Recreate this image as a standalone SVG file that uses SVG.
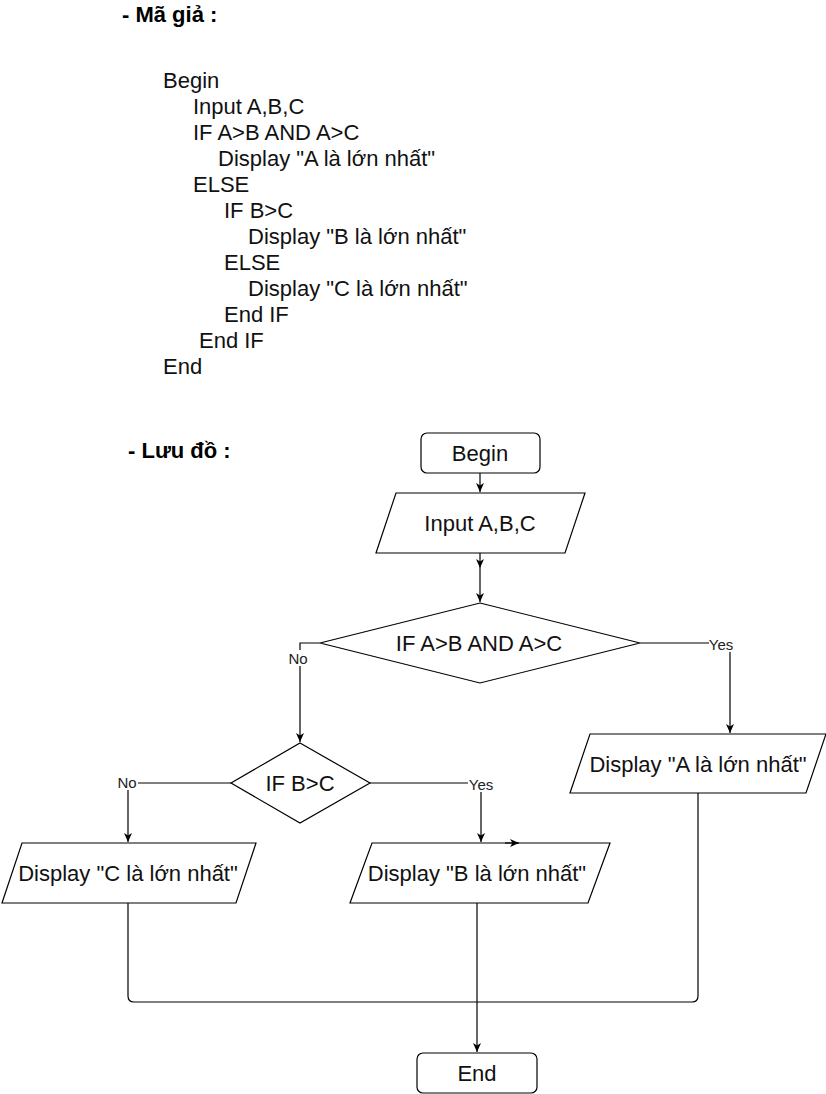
<svg xmlns="http://www.w3.org/2000/svg" width="826" height="1094" viewBox="0 0 826 1094">
<defs>
<style>
.t{font-family:"Liberation Sans",Arial,sans-serif;font-size:22px;fill:#111}
.h{font-family:"Liberation Sans",Arial,sans-serif;font-size:22px;font-weight:bold;fill:#000}
.c{text-anchor:middle;dominant-baseline:central}
.lb{font-family:"Liberation Sans",Arial,sans-serif;font-size:15px;fill:#222;text-anchor:middle;dominant-baseline:central}
.s{fill:#fff;stroke:#000;stroke-width:1.2}
.e{fill:none;stroke:#000;stroke-width:1.2}
</style>
<marker id="ar" markerUnits="userSpaceOnUse" markerWidth="10" markerHeight="10" viewBox="0 0 10 10" refX="9" refY="5" orient="auto">
<path d="M0,1 L9,5 L0,9 L2.5,5 z" fill="#000"/>
</marker>
</defs>
<rect width="826" height="1094" fill="#fff"/>

<g id="pseudocode">
<text class="h" x="122" y="22">- Mã giả :</text>
<text class="t" x="163" y="88">Begin</text>
<text class="t" x="193" y="114">Input A,B,C</text>
<text class="t" x="193" y="140">IF A&gt;B AND A&gt;C</text>
<text class="t" x="218" y="166">Display "A là lớn nhất"</text>
<text class="t" x="193" y="192">ELSE</text>
<text class="t" x="224" y="218">IF B&gt;C</text>
<text class="t" x="248" y="244">Display "B là lớn nhất"</text>
<text class="t" x="224" y="270">ELSE</text>
<text class="t" x="248" y="296">Display "C là lớn nhất"</text>
<text class="t" x="224" y="322">End IF</text>
<text class="t" x="199" y="348">End IF</text>
<text class="t" x="163" y="374">End</text>
<text class="h" x="128" y="458">- Lưu đồ :</text>
</g>

<g id="connectors">
<path class="e" d="M480,473 L480,492" marker-end="url(#ar)"/>
<path class="e" d="M480,553 L480,568" marker-end="url(#ar)"/>
<path class="e" d="M480,568 L480,602" marker-end="url(#ar)"/>
<path class="e" d="M320,643 L300,643 L300,742" marker-end="url(#ar)"/>
<path class="e" d="M640,643 L730,643 L730,733" marker-end="url(#ar)"/>
<path class="e" d="M231,783 L128,783 L128,842" marker-end="url(#ar)"/>
<path class="e" d="M370,783 L481,783 L481,842" marker-end="url(#ar)"/>
<path class="e" d="M128,903 L128,996 Q128,1002 134,1002 L692,1002 Q698,1002 698,996 L698,793"/>
<path class="e" d="M477,903 L477,1052" marker-end="url(#ar)"/>
<rect x="289" y="650" width="19" height="16" fill="#fff"/>
<text class="lb" x="298" y="658">No</text>
<rect x="709" y="636" width="25" height="16" fill="#fff"/>
<text class="lb" x="721" y="644">Yes</text>
<rect x="117" y="774" width="21" height="16" fill="#fff"/>
<text class="lb" x="127" y="782">No</text>
<rect x="468" y="776" width="26" height="16" fill="#fff"/>
<text class="lb" x="481" y="784">Yes</text>
</g>

<g id="begin">
<rect class="s" x="421" y="433" width="119" height="40" rx="6"/>
<text class="t c" x="480" y="453">Begin</text>
</g>
<g id="input">
<polygon class="s" points="396,493 585,493 565,553 376,553"/>
<text class="t c" x="480" y="523">Input A,B,C</text>
</g>
<g id="cond1">
<polygon class="s" points="480,603 640,643 480,683 320,643"/>
<text class="t c" x="479" y="643">IF A&gt;B AND A&gt;C</text>
</g>
<g id="displayA">
<polygon class="s" points="590,734 826,734 806,793 570,793"/>
<text class="t c" x="698" y="764">Display "A là lớn nhất"</text>
</g>
<g id="cond2">
<polygon class="s" points="300,743 370,783 300,823 231,783"/>
<text class="t c" x="300" y="783">IF B&gt;C</text>
</g>
<g id="displayC">
<polygon class="s" points="22,843 256,843 236,903 2,903"/>
<text class="t c" x="128" y="873">Display "C là lớn nhất"</text>
</g>
<g id="displayB">
<polygon class="s" points="372,843 610,843 588,903 350,903"/>
<text class="t c" x="477" y="873">Display "B là lớn nhất"</text>
<path class="e" d="M505,843 L519,843" marker-end="url(#ar)"/>
</g>
<g id="end">
<rect class="s" x="417" y="1053" width="120" height="40" rx="6"/>
<text class="t c" x="477" y="1073">End</text>
</g>
</svg>
